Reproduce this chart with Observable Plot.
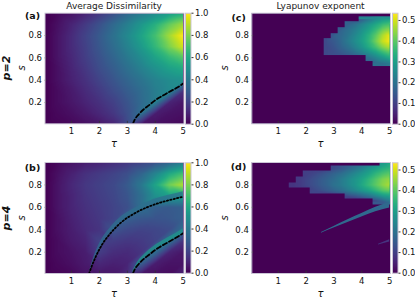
<!DOCTYPE html>
<html><head><meta charset="utf-8">
<script src="https://cdn.jsdelivr.net/npm/d3@7"></script>
<script src="https://cdn.jsdelivr.net/npm/@observablehq/plot@0.6"></script>
<style>
body{margin:0;background:#fff;}
#root{position:relative;width:415px;height:300px;overflow:hidden;font-family:"DejaVu Sans",sans-serif;color:#111;background:#fff;}
#root svg{position:absolute;}
.lbl{position:absolute;transform:translate(-50%,-50%);white-space:nowrap;line-height:1;}
.rot{transform:translate(-50%,-50%) rotate(-90deg);}
</style></head><body><div id="root"></div>
<script>
// ---------- data ----------
const tauCols = [0.1, 0.5, 1, 1.5, 2, 2.5, 3, 3.5, 4, 4.5, 5];
const sRows = [1.0, 0.9, 0.8, 0.7, 0.6, 0.5, 0.4, 0.3, 0.2, 0.1, 0.0];

// (a) average dissimilarity, p=2 (rows follow sRows)
const dissimP2 = [
  [0.00,0.02,0.05,0.10,0.16,0.24,0.33,0.41,0.48,0.55,0.62],
  [0.00,0.04,0.10,0.17,0.25,0.34,0.43,0.53,0.63,0.76,0.86],
  [0.00,0.05,0.12,0.20,0.28,0.37,0.47,0.58,0.70,0.86,1.00],
  [0.00,0.05,0.12,0.19,0.27,0.35,0.44,0.54,0.66,0.80,0.93],
  [0.00,0.05,0.11,0.18,0.25,0.32,0.40,0.48,0.57,0.66,0.73],
  [0.00,0.04,0.10,0.16,0.23,0.29,0.36,0.43,0.50,0.56,0.60],
  [0.00,0.04,0.09,0.14,0.20,0.26,0.32,0.38,0.44,0.48,0.50],
  [0.00,0.03,0.07,0.12,0.17,0.23,0.29,0.35,0.42,0.47,0.14],
  [0.00,0.03,0.06,0.10,0.14,0.19,0.26,0.34,0.42,0.10,0.06],
  [0.00,0.02,0.04,0.07,0.11,0.16,0.24,0.36,0.08,0.05,0.04],
  [0.00,0.01,0.02,0.04,0.06,0.10,0.22,0.05,0.04,0.03,0.02]
];
// (b) average dissimilarity, p=4
const dissimP4 = [
  [0.00,0.02,0.05,0.08,0.10,0.13,0.16,0.20,0.25,0.32,0.42],
  [0.00,0.04,0.09,0.14,0.17,0.20,0.24,0.32,0.45,0.60,0.70],
  [0.00,0.05,0.11,0.16,0.19,0.22,0.28,0.40,0.58,0.78,0.88],
  [0.00,0.05,0.10,0.15,0.18,0.21,0.26,0.36,0.50,0.56,0.56],
  [0.00,0.05,0.10,0.14,0.17,0.20,0.24,0.36,0.30,0.28,0.30],
  [0.00,0.04,0.09,0.13,0.16,0.20,0.30,0.27,0.26,0.27,0.30],
  [0.00,0.04,0.08,0.12,0.15,0.26,0.22,0.20,0.21,0.23,0.36],
  [0.00,0.03,0.07,0.10,0.20,0.18,0.16,0.17,0.20,0.38,0.15],
  [0.00,0.03,0.05,0.08,0.18,0.13,0.12,0.15,0.35,0.10,0.06],
  [0.00,0.02,0.04,0.07,0.11,0.09,0.10,0.30,0.08,0.05,0.05],
  [0.00,0.01,0.02,0.05,0.06,0.06,0.12,0.05,0.04,0.03,0.10]
];
// bright ridges just above the two boundary curves in (b)
const ridgeId  = ["dot","dot","dot","dot","dot","dot","dot","dot","dot","dot","dash","dash","dash","dash","dash","dash","dash"];
const ridgeTau = [1.66, 1.85, 2.1, 2.4, 2.8, 3.25, 3.7, 4.15, 4.6, 5.0, 3.2, 3.41, 3.59, 3.97, 4.36, 4.79, 5.0];
const ridgeLo  = [0.02, 0.15, 0.27, 0.37, 0.47, 0.545, 0.60, 0.64, 0.67, 0.695, 0.01, 0.095, 0.14, 0.215, 0.275, 0.335, 0.37];
const ridgeHi  = [0.04, 0.19, 0.32, 0.42, 0.52, 0.59, 0.645, 0.685, 0.715, 0.74, 0.03, 0.125, 0.175, 0.255, 0.315, 0.375, 0.41];
const ridgeVal = [0.36, 0.36, 0.36, 0.36, 0.36, 0.36, 0.36, 0.36, 0.36, 0.36, 0.52, 0.52, 0.52, 0.52, 0.52, 0.52, 0.52];

// (c) Lyapunov exponent, p=2
const lyapTauP2 = [2.5, 2.75, 3.0, 3.25, 3.5, 3.75, 4.0, 4.25, 4.5, 4.75, 5.0];
const lyapSP2 = [1.0, 0.95, 0.9, 0.85, 0.8, 0.75, 0.7, 0.65, 0.6, 0.55, 0.5];
const lyapP2 = [
  [0,0,0,0,0,0,0,0,0,0,0],
  [0,0,0,0,0,0,0.15,0.20,0.25,0.28,0.30],
  [0,0,0,0,0.17,0.20,0.24,0.28,0.32,0.36,0.38],
  [0,0,0,0.17,0.20,0.23,0.27,0.31,0.36,0.42,0.45],
  [0,0,0.16,0.18,0.21,0.25,0.29,0.34,0.40,0.47,0.52],
  [0,0.13,0.15,0.18,0.22,0.26,0.30,0.35,0.42,0.49,0.53],
  [0,0.12,0.14,0.17,0.20,0.24,0.28,0.33,0.38,0.44,0.48],
  [0,0.12,0.13,0.15,0.17,0.20,0.23,0.27,0.31,0.36,0.40],
  [0,0,0,0,0,0,0,0.20,0.24,0.28,0.32],
  [0,0,0,0,0,0,0,0,0.18,0.20,0.22],
  [0,0,0,0,0,0,0,0,0,0,0]
];
// (d) Lyapunov exponent, p=4
const lyapTauP4 = [1.25, 1.5, 1.75, 2.0, 2.25, 2.5, 2.75, 3.0, 3.25, 3.5, 3.75, 4.0, 4.25, 4.5, 4.75, 5.0];
const lyapSP4 = [1.0, 0.95, 0.9, 0.85, 0.8, 0.75, 0.7, 0.65, 0.6];
const lyapP4 = [
  [0,0,0,0,0,0,0,0,0,0,0,0,0,0,0.28,0.32],
  [0,0,0,0,0,0,0,0.12,0.14,0.17,0.20,0.23,0.27,0.30,0.33,0.35],
  [0,0,0,0.10,0.11,0.13,0.15,0.17,0.19,0.22,0.25,0.28,0.31,0.35,0.38,0.40],
  [0,0,0.09,0.11,0.13,0.15,0.17,0.19,0.22,0.25,0.28,0.31,0.35,0.39,0.43,0.45],
  [0,0.08,0.09,0.11,0.13,0.15,0.17,0.20,0.22,0.25,0.28,0.32,0.36,0.40,0.44,0.47],
  [0,0,0,0,0.11,0.13,0.15,0.17,0.19,0.22,0.25,0.28,0.31,0.35,0.39,0.41],
  [0,0,0,0,0,0,0,0,0,0.12,0.14,0.17,0.20,0.24,0.28,0.30],
  [0,0,0,0,0,0,0,0,0,0,0,0,0,0.10,0.15,0.20],
  [0,0,0,0,0,0,0,0,0,0,0,0,0,0,0,0]
];
// thin streaks in (d)
const streakId  = ["s1","s1","s1","s1","s1","s1","s2","s2"];
const streakTau = [2.55, 3.0, 3.5, 4.0, 4.5, 5.0, 4.6, 5.0];
const streakLo  = [0.370, 0.415, 0.465, 0.515, 0.560, 0.595, 0.265, 0.290];
const streakHi  = [0.375, 0.430, 0.490, 0.545, 0.600, 0.645, 0.270, 0.310];
const streakVal = [0.18, 0.18, 0.18, 0.18, 0.18, 0.18, 0.08, 0.08];

// boundary curves
const dashTau = [3.2, 3.26, 3.41, 3.59, 3.77, 3.97, 4.15, 4.36, 4.57, 4.79, 5.0];
const dashS   = [0.01, 0.045, 0.095, 0.14, 0.175, 0.215, 0.245, 0.275, 0.305, 0.335, 0.37];
const dotTau  = [1.63, 1.7, 1.85, 2.1, 2.4, 2.8, 3.25, 3.7, 4.15, 4.6, 5.0];
const dotS    = [0.01, 0.06, 0.15, 0.27, 0.37, 0.47, 0.545, 0.60, 0.64, 0.67, 0.695];

const tauTicks = [1, 2, 3, 4, 5];
const sTicks = [0.2, 0.4, 0.6, 0.8];
const dissimTicks = [0, 0.2, 0.4, 0.6, 0.8, 1.0];
const lyapTicks = [0, 0.1, 0.2, 0.3, 0.4, 0.5];
const dissimMax = 1.0, lyapMax = 0.535;

// ---------- build ----------
const root = document.getElementById("root");
const tauDomain = [0.05, 5.03], sDomain = [0.01, 1.0];
const spine = "#cbc5d6";
const fmt = d3.format(".1f");
const bg = d3.interpolateViridis(0);

function grid(cols, rows, vals) {
  const out = [];
  rows.forEach((s, i) => cols.forEach((tau, j) => out.push({tau, s, v: vals[i][j]})));
  return out;
}
function pts(xs, ys) { return xs.map((x, i) => ({tau: x, s: ys[i]})); }
function bands(ids, xs, lo, hi, v) { return xs.map((x, i) => ({id: ids[i], tau: x, lo: lo[i], hi: hi[i], v: v[i]})); }

function place(svg, left, top) {
  svg.style.left = left + "px"; svg.style.top = top + "px";
  root.appendChild(svg);
}

function panel({left, top, mt, mb, ml, mr, cmax, layers}) {
  const svg = Plot.plot({
    width: 207, height: 150,
    marginLeft: ml, marginRight: mr, marginTop: mt, marginBottom: mb,
    x: {domain: tauDomain},
    y: {domain: sDomain},
    color: {type: "linear", scheme: "viridis", domain: [0, cmax]},
    style: {fontFamily: "DejaVu Sans", fontSize: "8.5px", color: "#111", background: "transparent", overflow: "visible"},
    marks: [
      Plot.frame({fill: bg}),
      ...layers,
      Plot.ruleY(sTicks, {y: d => d, x1: tauDomain[0], x2: tauDomain[0] + 0.07, stroke: "#333", strokeWidth: 0.8}),
      Plot.ruleX(tauTicks.slice(0, 4), {x: d => d, y1: sDomain[0], y2: sDomain[0] + 0.022, stroke: "#333", strokeWidth: 0.8}),
      Plot.frame({stroke: spine, strokeWidth: 1}),
      Plot.axisX({ticks: tauTicks, tickSize: 0, tickPadding: 4, label: null, tickFormat: d3.format("d")}),
      Plot.axisY({ticks: sTicks, tickSize: 0, tickPadding: 3, label: null, tickFormat: fmt})
    ]
  });
  place(svg, left, top);
}

function colorbar({left, top, mt, mb, cmax, ticks}) {
  const svg = Plot.plot({
    width: 30, height: 150,
    marginLeft: 0, marginRight: 24.5, marginTop: mt, marginBottom: mb,
    x: {domain: [0, 1], axis: null},
    y: {domain: [0, cmax]},
    color: {type: "linear", scheme: "viridis", domain: [0, cmax]},
    style: {fontFamily: "DejaVu Sans", fontSize: "8.5px", color: "#111", background: "transparent", overflow: "visible"},
    marks: [
      Plot.raster({fill: (x, y) => y, x1: 0, x2: 1, y1: 0, y2: cmax}),
      Plot.frame({stroke: spine, strokeWidth: 1}),
      Plot.axisY({ticks, anchor: "right", tickSize: 2, tickPadding: 2, label: null, tickFormat: fmt, stroke: "#333"})
    ]
  });
  place(svg, left, top);
}

// smooth values inside the chaotic region, crisp (cell-wise) border around it
function lyapLayers(data) {
  return [
    Plot.raster(data.filter(d => d.v > 0), {x: "tau", y: "s", fill: "v", interpolate: "barycentric"}),
    Plot.raster(data, {x: "tau", y: "s", fill: bg, fillOpacity: d => (d.v > 0 ? 0 : 1), interpolate: "nearest"})
  ];
}

const dash = Plot.line(pts(dashTau, dashS), {x: "tau", y: "s", stroke: "#000", strokeWidth: 1.8, strokeDasharray: "4.5,2.5", curve: "monotone-x", clip: true});
const dot = Plot.line(pts(dotTau, dotS), {x: "tau", y: "s", stroke: "#000", strokeWidth: 1.8, strokeDasharray: "1.3,2.2", curve: "monotone-x", clip: true});
const ridges = Plot.areaY(bands(ridgeId, ridgeTau, ridgeLo, ridgeHi, ridgeVal), {x: "tau", y1: "lo", y2: "hi", z: "id", fill: "v", fillOpacity: 0.75, curve: "monotone-x", clip: true});
const streaks = Plot.areaY(bands(streakId, streakTau, streakLo, streakHi, streakVal), {x: "tau", y1: "lo", y2: "hi", z: "id", fill: "v", curve: "monotone-x", clip: true});

panel({left: 0, top: 0, mt: 12.7, mb: 26.7, ml: 44.5, mr: 23.5, cmax: dissimMax,
  layers: [Plot.raster(grid(tauCols, sRows, dissimP2), {x: "tau", y: "s", fill: "v", interpolate: "barycentric"}), dash]});
panel({left: 0, top: 150, mt: 12, mb: 27, ml: 44.5, mr: 23.5, cmax: dissimMax,
  layers: [Plot.raster(grid(tauCols, sRows, dissimP4), {x: "tau", y: "s", fill: "v", interpolate: "barycentric"}), ridges, dot, dash]});
panel({left: 207, top: 0, mt: 12.7, mb: 26.7, ml: 44.3, mr: 24, cmax: lyapMax,
  layers: lyapLayers(grid(lyapTauP2, lyapSP2, lyapP2))});
panel({left: 207, top: 150, mt: 12, mb: 27, ml: 44.3, mr: 24, cmax: lyapMax,
  layers: [...lyapLayers(grid(lyapTauP4, lyapSP4, lyapP4)), streaks]});

colorbar({left: 185, top: 0, mt: 12.7, mb: 26.3, cmax: dissimMax, ticks: dissimTicks});
colorbar({left: 185, top: 150, mt: 12.3, mb: 27.3, cmax: dissimMax, ticks: dissimTicks});
colorbar({left: 392, top: 0, mt: 12.7, mb: 26.3, cmax: lyapMax, ticks: lyapTicks});
colorbar({left: 392, top: 150, mt: 12.3, mb: 27.3, cmax: lyapMax, ticks: lyapTicks});

// ---------- text ----------
function label(text, x, y, style, cls) {
  const d = document.createElement("div");
  d.className = "lbl" + (cls ? " " + cls : "");
  d.textContent = text;
  d.style.left = x + "px"; d.style.top = y + "px";
  Object.assign(d.style, style);
  root.appendChild(d);
}
const titleStyle = {fontSize: "9px", color: "#222"};
label("Average Dissimilarity", 114, 6, titleStyle);
label("Lyapunov exponent", 320.5, 6, titleStyle);
const tagStyle = {fontSize: "9.5px", fontWeight: "bold"};
label("(a)", 32.5, 15.5, tagStyle);
label("(c)", 238.7, 17.5, tagStyle);
label("(b)", 32.5, 167.5, tagStyle);
label("(d)", 238.5, 167, tagStyle);
const rowStyle = {fontSize: "11px", fontWeight: "bold", fontStyle: "italic"};
label("p=2", 6, 68, rowStyle, "rot");
label("p=4", 6, 218, rowStyle, "rot");
const sStyle = {fontSize: "10px", fontStyle: "italic"};
[[21.7, 68], [224.7, 68], [21.7, 218], [224.7, 218]].forEach(([x, y]) => label("s", x, y, sStyle, "rot"));
const tStyle = {fontSize: "10px", fontStyle: "italic"};
[[114, 143.5], [320.5, 143.5], [114, 294], [320.5, 294]].forEach(([x, y]) => label("τ", x, y, tStyle));
</script></body></html>
